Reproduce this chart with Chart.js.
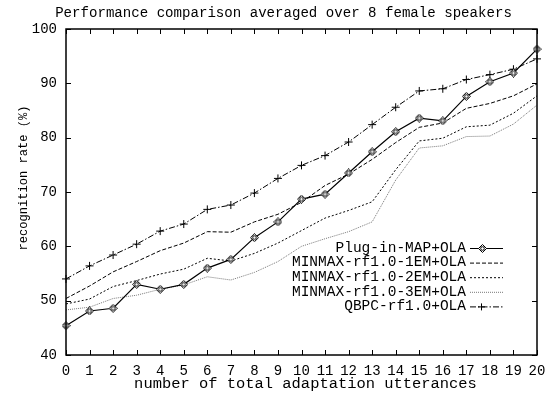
<!DOCTYPE html>
<html>
<head>
<meta charset="utf-8">
<script src="https://cdn.jsdelivr.net/npm/chart.js@4"></script>
<style>
  body { margin: 0; background: #fff; }
  #wrap { width: 546px; height: 394px; }
</style>
</head>
<body>
<div id="wrap"><canvas id="chart" width="546" height="394"></canvas></div>
<script>
// valores
const utterances = [0,1,2,3,4,5,6,7,8,9,10,11,12,13,14,15,16,17,18,19,20];
const plugInMap = [45.4,48.1,48.6,53.0,52.1,53.0,56.0,57.6,61.6,64.5,68.7,69.6,73.5,77.4,81.1,83.6,83.1,87.6,90.3,91.9,96.3];
const minmax1EM = [50.4,52.7,55.3,57.2,59.2,60.6,62.7,62.6,64.5,65.9,68.1,71.2,73.3,76.0,79.1,81.9,82.7,85.4,86.3,87.7,89.9];
const minmax2EM = [49.4,50.3,52.6,53.7,54.9,55.8,57.8,57.3,58.7,60.6,62.9,65.2,66.6,68.2,74.1,79.4,79.9,82.0,82.3,84.5,87.7];
const minmax3EM = [48.3,48.8,50.4,51.0,52.1,52.9,54.4,53.8,55.2,57.2,60.0,61.4,62.7,64.5,72.2,78.1,78.5,80.2,80.3,82.5,86.0];
const qbpc = [54.0,56.4,58.4,60.4,62.8,64.1,66.8,67.6,69.8,72.5,74.9,76.7,79.2,82.4,85.6,88.6,89.0,90.7,91.6,92.6,94.5];
const xTicks = [0,1,2,3,4,5,6,7,8,9,10,11,12,13,14,15,16,17,18,19,20];
const yTicks = [40,50,60,70,80,90,100];

const mono = 'Liberation Mono';
const chartTitle = 'Performance comparison averaged over 8 female speakers';
const xTitle = 'number of total adaptation utterances';
const yTitle = 'recognition rate (%)';

// marcador rombo con circulo
function diamondMarker() {
    const c = document.createElement('canvas');
    c.width = 9; c.height = 9;
    const g = c.getContext('2d');
    g.strokeStyle = '#000';
    g.lineWidth = 1;
    g.fillStyle = '#fff';
    g.beginPath();
    g.moveTo(4.5, 0.5); g.lineTo(8.5, 4.5); g.lineTo(4.5, 8.5); g.lineTo(0.5, 4.5); g.closePath();
    g.fill(); g.stroke();
    g.beginPath();
    g.arc(4.5, 4.5, 1.8, 0, Math.PI * 2);
    g.stroke();
    return c;
}
const diamond = diamondMarker();

function pts(arr) { return arr.map((v, i) => ({ x: utterances[i], y: v })); }

const series = [
    { label: 'Plug-in-MAP+OLA', data: plugInMap, color: '#000', dash: [], width: 1.2, point: diamond, radius: 4.5 },
    { label: 'MINMAX-rf1.0-1EM+OLA', data: minmax1EM, color: '#000', dash: [4, 2], width: 1, point: false, radius: 0 },
    { label: 'MINMAX-rf1.0-2EM+OLA', data: minmax2EM, color: '#000', dash: [2, 2], width: 1, point: false, radius: 0 },
    { label: 'MINMAX-rf1.0-3EM+OLA', data: minmax3EM, color: '#777', dash: [1, 1], width: 1, point: false, radius: 0 },
    { label: 'QBPC-rf1.0+OLA', data: qbpc, color: '#000', dash: [6, 2, 1.5, 2], width: 1, point: 'cross', radius: 4 }
];

// texto ajustado a un ancho dado
function fitText(ctx, text, width, x, y, rot) {
    ctx.font = '10px "' + mono + '"';
    const size = 10 * width / ctx.measureText(text).width;
    ctx.font = size + 'px "' + mono + '"';
    ctx.save();
    ctx.translate(x, y);
    if (rot) ctx.rotate(-Math.PI / 2);
    ctx.fillText(text, 0, 0);
    ctx.restore();
}

const framePlugin = {
    id: 'frame',
    afterDraw(chart) {
        const { ctx, chartArea: a, scales } = chart;
        ctx.save();
        ctx.strokeStyle = '#000';
        ctx.lineWidth = 1.5;
        ctx.setLineDash([]);
        ctx.strokeRect(a.left, a.top, a.right - a.left, a.bottom - a.top);
        ctx.lineWidth = 1;
        xTicks.forEach(v => {
            const x = Math.round(scales.x.getPixelForValue(v)) + 0.5;
            ctx.beginPath();
            ctx.moveTo(x, a.bottom); ctx.lineTo(x, a.bottom - 5);
            ctx.moveTo(x, a.top); ctx.lineTo(x, a.top + 5);
            ctx.stroke();
        });
        yTicks.forEach(v => {
            const y = Math.round(scales.y.getPixelForValue(v)) + 0.5;
            ctx.beginPath();
            ctx.moveTo(a.left, y); ctx.lineTo(a.left + 5, y);
            ctx.moveTo(a.right, y); ctx.lineTo(a.right - 5, y);
            ctx.stroke();
        });
        // titulos
        ctx.fillStyle = '#000';
        ctx.textAlign = 'center';
        ctx.textBaseline = 'middle';
        fitText(ctx, chartTitle, 457, 283.5, 13, false);
        fitText(ctx, xTitle, 343, 305.5, 384, false);
        fitText(ctx, yTitle, 145, 24, 178, true);
        // leyenda
        ctx.font = '14.5px "' + mono + '"';
        ctx.textAlign = 'right';
        series.forEach((s, i) => {
            const y = 248 + i * 14.6;
            ctx.fillStyle = '#000';
            ctx.fillText(s.label, 466, y);
            ctx.strokeStyle = s.color;
            ctx.lineWidth = s.width;
            ctx.setLineDash(s.dash);
            ctx.beginPath();
            ctx.moveTo(470, y + 0.5); ctx.lineTo(503, y + 0.5);
            ctx.stroke();
            ctx.setLineDash([]);
            if (s.point === diamond) {
                ctx.drawImage(diamond, 478, y - 4);
            } else if (s.point === 'cross') {
                ctx.strokeStyle = '#000';
                ctx.beginPath();
                ctx.moveTo(481.5, y - 3); ctx.lineTo(481.5, y + 4);
                ctx.moveTo(478, y + 0.5); ctx.lineTo(485, y + 0.5);
                ctx.stroke();
            }
        });
        ctx.restore();
    }
};

new Chart(document.getElementById('chart').getContext('2d'), {
    type: 'line',
    data: {
        datasets: series.map(s => ({
            label: s.label,
            data: pts(s.data),
            borderColor: s.color,
            borderWidth: s.width,
            borderDash: s.dash,
            pointStyle: s.point,
            pointRadius: s.radius,
            pointBorderColor: '#000',
            pointBackgroundColor: '#fff',
            pointBorderWidth: 1,
            tension: 0,
            fill: false,
            clip: false
        }))
    },
    options: {
        responsive: false,
        animation: false,
        layout: { padding: { left: 0, right: 9, top: 29, bottom: 0 } },
        plugins: {
            legend: { display: false },
            tooltip: { enabled: false },
            title: { display: false }
        },
        scales: {
            x: {
                type: 'linear',
                min: 0, max: 20,
                afterFit: s => { s.height = 39; s.paddingLeft = 0; s.paddingRight = 0; },
                afterBuildTicks: s => { s.ticks = xTicks.map(v => ({ value: v })); },
                grid: { display: false, drawTicks: false },
                border: { display: false },
                ticks: { color: '#000', font: { family: mono, size: 14 }, padding: 8, maxRotation: 0, autoSkip: false }
            },
            y: {
                min: 40, max: 100,
                afterFit: s => { s.width = 66; s.paddingTop = 0; s.paddingBottom = 0; },
                afterBuildTicks: s => { s.ticks = yTicks.map(v => ({ value: v })); },
                grid: { display: false, drawTicks: false },
                border: { display: false },
                ticks: { color: '#000', font: { family: mono, size: 14 }, padding: 9 }
            }
        }
    },
    plugins: [framePlugin]
});
</script>
</body>
</html>
